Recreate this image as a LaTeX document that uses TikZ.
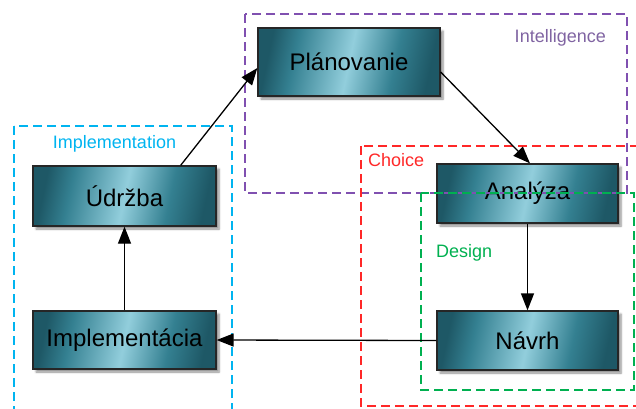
\documentclass[tikz,border=0pt]{standalone}
\usepackage{fontspec}
\setmainfont{Liberation Sans}
\usetikzlibrary{arrows.meta,shadows.blur}
\definecolor{bd}{RGB}{30,88,102}
\definecolor{bl}{RGB}{146,206,220}
\definecolor{bm}{RGB}{52,128,145}
\definecolor{fpurple}{RGB}{128,80,176}
\definecolor{tpurple}{RGB}{128,100,162}
\definecolor{fred}{RGB}{255,40,40}
\definecolor{fgreen}{RGB}{0,176,80}
\definecolor{fcyan}{RGB}{0,180,240}
\pgfdeclarehorizontalshading{boxshade}{100bp}{color(0bp)=(bd); color(25bp)=(bd); color(33bp)=(bm); color(50bp)=(bl); color(64bp)=(bm); color(75bp)=(bd); color(100bp)=(bd)}
\tikzset{
  stepbox/.style={draw=black!85, line width=1.3pt, shading=boxshade, shading angle=-12,
    inner sep=0pt, font=\fontsize{24}{28}\selectfont,
    blur shadow={shadow xshift=3pt, shadow yshift=-3pt, shadow blur steps=6, shadow opacity=45}},
  frame/.style={line width=1.5pt, dash pattern=on 9pt off 5pt},
  flabel/.style={inner sep=0pt, anchor=base west, font=\fontsize{18}{21}\selectfont},
  conn/.style={line width=1.3pt, -{Triangle[length=17pt,width=13pt]}}
}
\begin{document}
\begin{tikzpicture}[x=1pt,y=-1pt]
\useasboundingbox (0,0) rectangle (636,408);
\clip (0,0) rectangle (636,408);
\node[stepbox, minimum width=182pt, minimum height=68pt] (plan) at (349,62) {Plánovanie};
\node[stepbox, minimum width=181pt, minimum height=59pt] (anal) at (527.5,193.5) {Analýza};
\node[stepbox, minimum width=181pt, minimum height=59pt] (navrh) at (527.5,340.5) {Návrh};
\node[stepbox, minimum width=183pt, minimum height=60pt] (udrz) at (124.5,196) {Údržba};
\node[stepbox, minimum width=183pt, minimum height=58pt] (impl) at (124.5,340) {Implementácia};
% frames
\draw[frame, fpurple] (245,14) rectangle (627,193);
\draw[frame, fred] (361,146) rectangle (660,406);
\draw[frame, fgreen] (421,193) rectangle (634,390);
\draw[frame, fcyan] (14,126) rectangle (232,440);
\node[flabel, anchor=base east, text=tpurple] (lint) at (606,42.5) {Intelligence};
\node[flabel, text=fred] (lcho) at (368,166.7) {Choice};
\node[flabel, text=fgreen] (ldes) at (436,257) {Design};
\node[flabel, anchor=base, text=fcyan] (limp) at (114.5,148.5) {Implementation};
% connectors
\draw[conn] ([xshift=-36pt]udrz.north east) -- ([yshift=-6pt]plan.west);
\draw[conn] ([yshift=-10pt]plan.east) -- ([xshift=2.5pt]anal.north);
\draw[conn] (anal.south) -- (navrh.north);
\draw[conn] (navrh.west) -- (impl.east);
\draw[conn] (impl.north) -- (udrz.south);
\end{tikzpicture}
\end{document}
